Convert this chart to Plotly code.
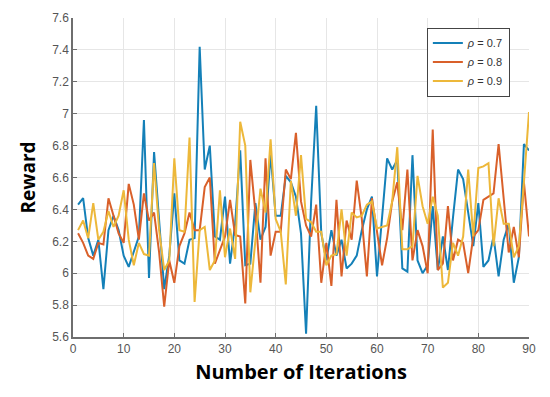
import plotly.graph_objects as go

iterations = list(range(1, 91))

reward_rho_07 = [6.43, 6.47, 6.22, 6.11, 6.21, 5.90, 6.27, 6.36, 6.27, 6.11,
                 6.04, 6.13, 6.23, 6.96, 5.97, 6.76, 6.36, 5.90, 6.11, 6.50,
                 6.08, 6.06, 6.21, 6.22, 7.42, 6.65, 6.80, 6.23, 6.21, 6.48,
                 6.06, 6.31, 6.77, 6.05, 6.06, 6.44, 6.21, 6.29, 6.75, 6.36,
                 6.36, 6.61, 6.57, 6.48, 6.25, 5.62, 6.45, 7.05, 6.25, 6.08,
                 6.27, 6.11, 6.21, 6.03, 6.06, 6.11, 6.27, 6.40, 6.48, 5.98,
                 6.35, 6.72, 6.65, 6.71, 6.03, 6.01, 6.74, 6.08, 6.00, 6.05,
                 6.42, 6.02, 6.23, 6.02, 6.35, 6.65, 6.59, 6.38, 6.17, 6.44,
                 6.04, 6.08, 6.23, 5.98, 6.21, 6.31, 5.94, 6.10, 6.81, 6.77]

reward_rho_08 = [6.25, 6.19, 6.11, 6.09, 6.19, 6.18, 6.47, 6.36, 6.25, 6.19,
                 6.56, 6.43, 6.21, 6.50, 6.33, 6.38, 6.13, 5.79, 6.08, 5.94,
                 6.17, 6.25, 6.38, 6.27, 6.27, 6.54, 6.60, 6.06, 6.15, 6.23,
                 6.46, 6.24, 6.23, 5.81, 6.71, 6.38, 5.94, 6.72, 6.11, 6.26,
                 6.26, 6.65, 6.59, 6.88, 6.45, 6.30, 6.23, 6.43, 5.94, 6.19,
                 5.92, 6.46, 5.98, 6.33, 6.21, 6.58, 6.34, 5.98, 6.47, 6.26,
                 6.05, 6.22, 6.45, 6.57, 6.27, 6.65, 6.08, 6.27, 6.17, 6.00,
                 6.90, 6.02, 6.06, 6.42, 6.08, 6.21, 6.19, 6.00, 6.23, 6.27,
                 6.46, 6.48, 6.50, 6.81, 6.48, 6.13, 6.29, 6.10, 6.57, 6.23]

reward_rho_09 = [6.27, 6.33, 6.22, 6.44, 6.21, 6.26, 6.39, 6.29, 6.36, 6.52,
                 6.21, 6.05, 6.19, 6.12, 6.11, 6.69, 6.27, 6.02, 6.08, 6.72,
                 6.27, 6.26, 6.85, 5.82, 6.27, 6.29, 6.02, 6.08, 6.52, 6.10,
                 6.28, 6.09, 6.95, 6.80, 5.88, 6.21, 6.53, 6.38, 6.84, 6.34,
                 6.26, 5.93, 6.58, 6.36, 6.74, 6.34, 6.32, 6.26, 6.26, 6.05,
                 6.11, 6.12, 6.40, 6.11, 6.38, 6.35, 6.36, 6.43, 6.45, 6.28,
                 6.29, 6.30, 6.45, 6.79, 6.15, 6.15, 6.17, 6.61, 6.42, 6.31,
                 6.48, 6.36, 5.91, 5.94, 6.19, 6.11, 6.23, 6.65, 6.23, 6.66,
                 6.67, 6.69, 6.17, 6.47, 6.31, 6.31, 6.10, 6.17, 6.57, 7.01]

series_names = ["<i>ρ</i> = 0.7", "<i>ρ</i> = 0.8", "<i>ρ</i> = 0.9"]
series_colors = ["#1480b8", "#d9602a", "#edb83a"]

x_ticks = [0, 10, 20, 30, 40, 50, 60, 70, 80, 90]
y_ticks = [5.6, 5.8, 6.0, 6.2, 6.4, 6.6, 6.8, 7.0, 7.2, 7.4, 7.6]
y_tick_labels = ["5.6", "5.8", "6", "6.2", "6.4", "6.6", "6.8", "7", "7.2", "7.4", "7.6"]

fig = go.Figure()
for name, ys, col in zip(series_names,
                         [reward_rho_07, reward_rho_08, reward_rho_09],
                         series_colors):
    fig.add_trace(go.Scatter(x=iterations, y=ys, mode="lines", name=name,
                             line=dict(color=col, width=2)))

axis_common = dict(showgrid=True, gridcolor="#e6e6e6", gridwidth=1,
                   showline=True, linecolor="#6e6e6e", linewidth=1.5,
                   ticks="inside", ticklen=4, tickcolor="#6e6e6e",
                   tickfont=dict(family="Liberation Sans, Arial", size=12, color="#555555"),
                   zeroline=False, mirror=False)

fig.update_layout(
    width=550, height=397,
    margin=dict(l=73, r=21, t=18, b=60),
    paper_bgcolor="white", plot_bgcolor="white",
    showlegend=True,
    legend=dict(x=0.776, y=0.97, xanchor="left", yanchor="top",
                bgcolor="white", bordercolor="#444444", borderwidth=1,
                font=dict(family="Liberation Sans, Arial", size=11, color="#333333"),
                tracegroupgap=0, itemwidth=30),
    xaxis=dict(range=[0, 90], tickvals=x_ticks,
               title=dict(text="<b>Number of Iterations</b>", standoff=10,
                          font=dict(family="Open Sans", size=20, color="black")),
               **axis_common),
    yaxis=dict(range=[5.6, 7.6], tickvals=y_ticks, ticktext=y_tick_labels,
               title=dict(text="<b>Reward</b>", standoff=12,
                          font=dict(family="Open Sans", size=19, color="black")),
               **axis_common),
)

fig.write_html("out.html", config={"displayModeBar": False},
               post_script="document.body.style.margin='0';")
